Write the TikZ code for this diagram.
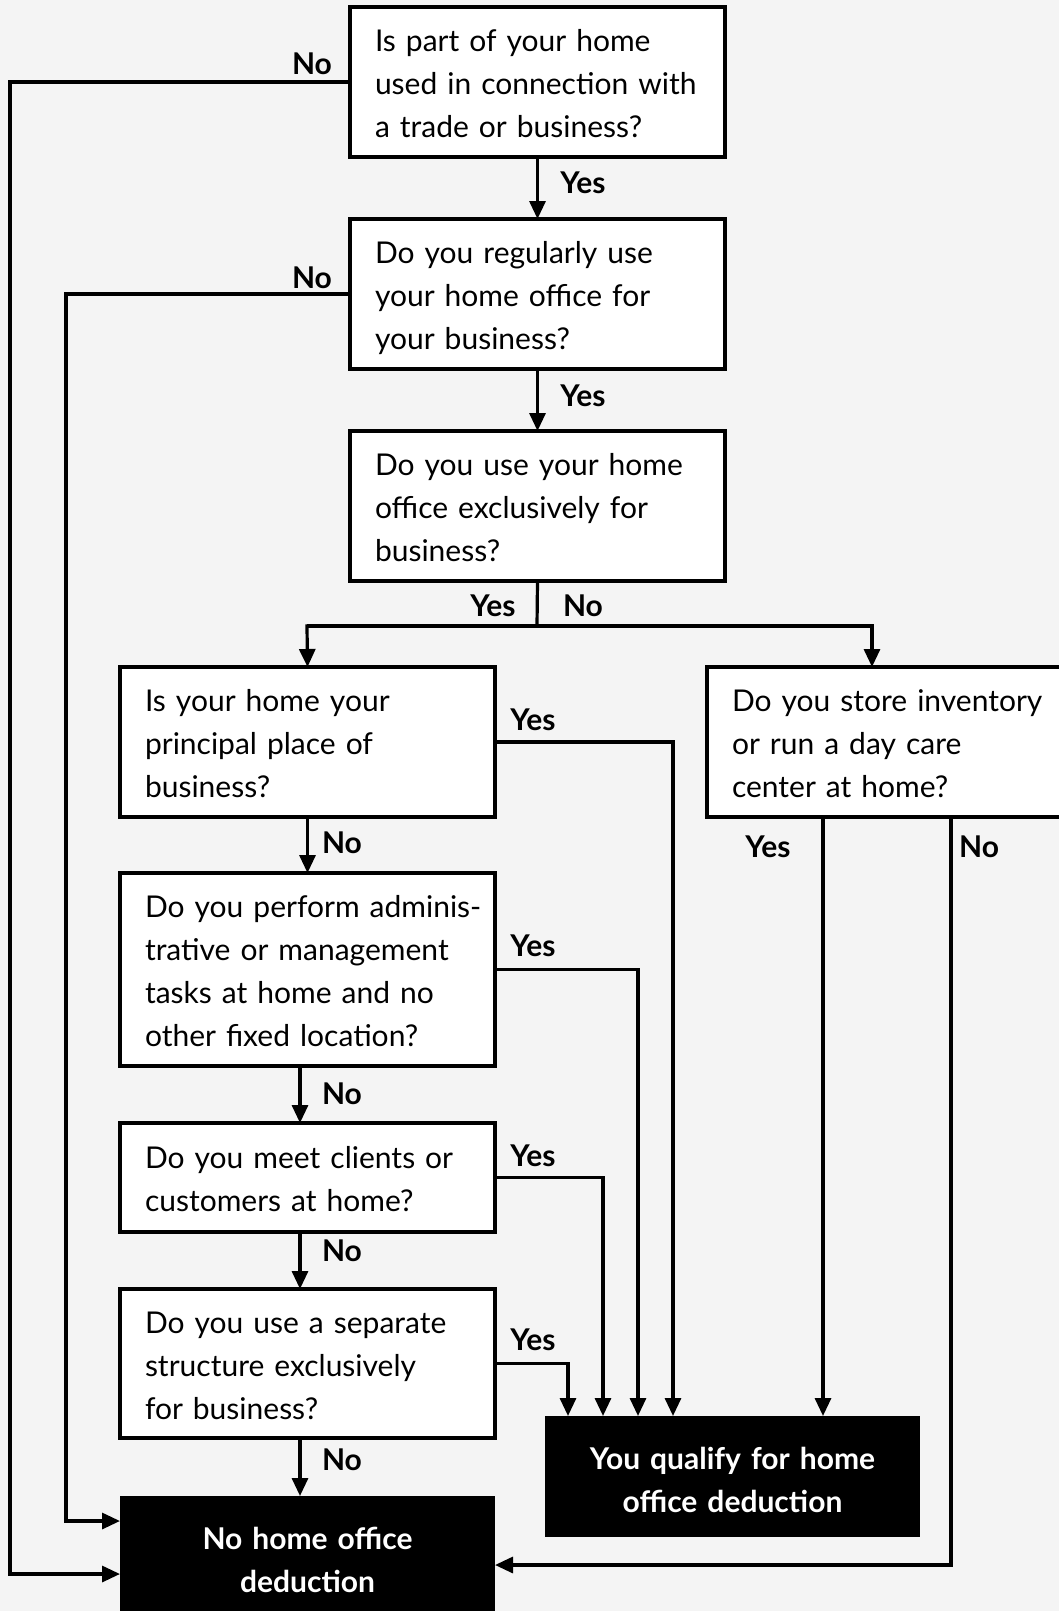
\documentclass[tikz,border=0pt]{standalone}
\usepackage{fontspec}
\setmainfont{Lato}
\usetikzlibrary{arrows.meta}
\definecolor{pagebg}{HTML}{F4F4F4}
\begin{document}
\begin{tikzpicture}[x=1pt,y=-1pt,
  font=\fontsize{30}{43}\selectfont,
  qbox/.style={draw, line width=3.5pt, fill=white, anchor=north west,
    inner xsep=25pt, inner ysep=0pt, outer sep=0pt, text width=325pt,
    align=left, minimum height=#1,
    execute at begin node=\rule{0pt}{38pt}, execute at end node=\strut},
  endbox/.style n args={2}{fill=black, text=white, font=\fontsize{30}{43}\selectfont\bfseries,
    anchor=north west, inner sep=0pt, outer sep=0pt, text width=375pt,
    minimum height=#1, align=center,
    execute at begin node=\rule{0pt}{#2}, execute at end node=\strut},
  lbl/.style={font=\fontsize{30}{43}\selectfont\bfseries, inner sep=0pt},
  conn/.style={line width=3.2pt, -{Triangle[length=18pt,width=16pt]}},
  link/.style={line width=3.2pt}]

\fill[pagebg] (0,0) rectangle (1059,1611);
\useasboundingbox (0,0) rectangle (1059,1611);

% questions
\node[qbox=150pt] (q1) at (350,7) {Is part of your home\\used in connection with\\a trade or business?};
\node[qbox=150pt] (q2) at (350,219) {Do you regularly use\\your home office for\\your business?};
\node[qbox=150pt] (q3) at (350,431) {Do you use your home\\office exclusively for\\business?};
\node[qbox=150pt] (q4) at (120,667) {Is your home your\\principal place of\\business?};
\node[qbox=150pt] (q5) at (707,667) {\mbox{Do you store inventory}\\or run a day care\\center at home?};
\node[qbox=193pt] (q6) at (120,873) {\mbox{Do you perform adminis-}\\\mbox{trative or management}\\tasks at home and no\\other fixed location?};
\node[qbox=109pt] (q7) at (120,1123) {Do you meet clients or\\customers at home?};
\node[qbox=149pt] (q8) at (120,1289) {Do you use a separate\\structure exclusively\\for business?};

% outcomes
\node[endbox={121pt}{42pt}] (yes) at (545,1416) {You qualify for home\\office deduction};
\node[endbox={129pt}{34pt}] (no) at (120,1496) {No home office\\deduction};

% helper points
\coordinate (split) at (537,626);
\coordinate (sl) at (307,626);
\coordinate (sr) at (872,626);
\coordinate (c300) at (300,0);
\coordinate (e1) at (10,1574);
\coordinate (e2) at (66,1521);
\coordinate (d4) at ([xshift=128pt]yes.north west);
\coordinate (d6) at ([xshift=93pt]yes.north west);
\coordinate (d7) at ([xshift=58pt]yes.north west);
\coordinate (d8) at ([xshift=23pt]yes.north west);
\coordinate (d5) at ([xshift=278pt]yes.north west);
\coordinate (n5) at (951,1565);

% main column
\draw[conn] (q1.south) -- (q2.north);
\draw[conn] (q2.south) -- (q3.north);
\draw[link] (q3.south) -- (split);
\draw[conn] (sr) -- (sl) -- (q4.north);
\draw[conn] (sl) -- (sr) -- (sr |- q5.north);
\draw[conn] (q4.south) -- (q6.north);
\draw[conn] (q6.south -| c300) -- (q7.north -| c300);
\draw[conn] (q7.south -| c300) -- (q8.north -| c300);
\draw[conn] (q8.south -| c300) -- (no.north -| c300);

% "no" loops on the left
\draw[conn] (q1.west) -| (e1) -- (e1 -| no.west);
\draw[conn] (q2.west) -| (e2) -- (e2 -| no.west);

% "yes" branches to the qualifying outcome
\draw[conn] (q4.east) -| (d4);
\draw[conn] (q6.east) -| (d6);
\draw[conn] (q7.east) -| (d7);
\draw[conn] (q8.east) -| (d8);
\draw[conn] (q5.south -| d5) -- (d5);
\draw[conn] (q5.south -| n5) -- (n5) -- (n5 -| no.east);

% branch labels
\node[lbl] (t1) at (312,64) {No};
\node[lbl] (t2) at (312,278) {No};
\node[lbl] (t3) at (583,183) {Yes};
\node[lbl] (t4) at (583,396) {Yes};
\node[lbl] (t5) at (493,606) {Yes};
\node[lbl] (t6) at (583,606) {No};
\node[lbl] (t7) at (533,720) {Yes};
\node[lbl] (t8) at (342,843) {No};
\node[lbl] (t9) at (533,946) {Yes};
\node[lbl] (t10) at (342,1094) {No};
\node[lbl] (t11) at (533,1156) {Yes};
\node[lbl] (t12) at (342,1251) {No};
\node[lbl] (t13) at (533,1340) {Yes};
\node[lbl] (t14) at (342,1460) {No};
\node[lbl] (t15) at (768,847) {Yes};
\node[lbl] (t16) at (979,847) {No};
\end{tikzpicture}
\end{document}
